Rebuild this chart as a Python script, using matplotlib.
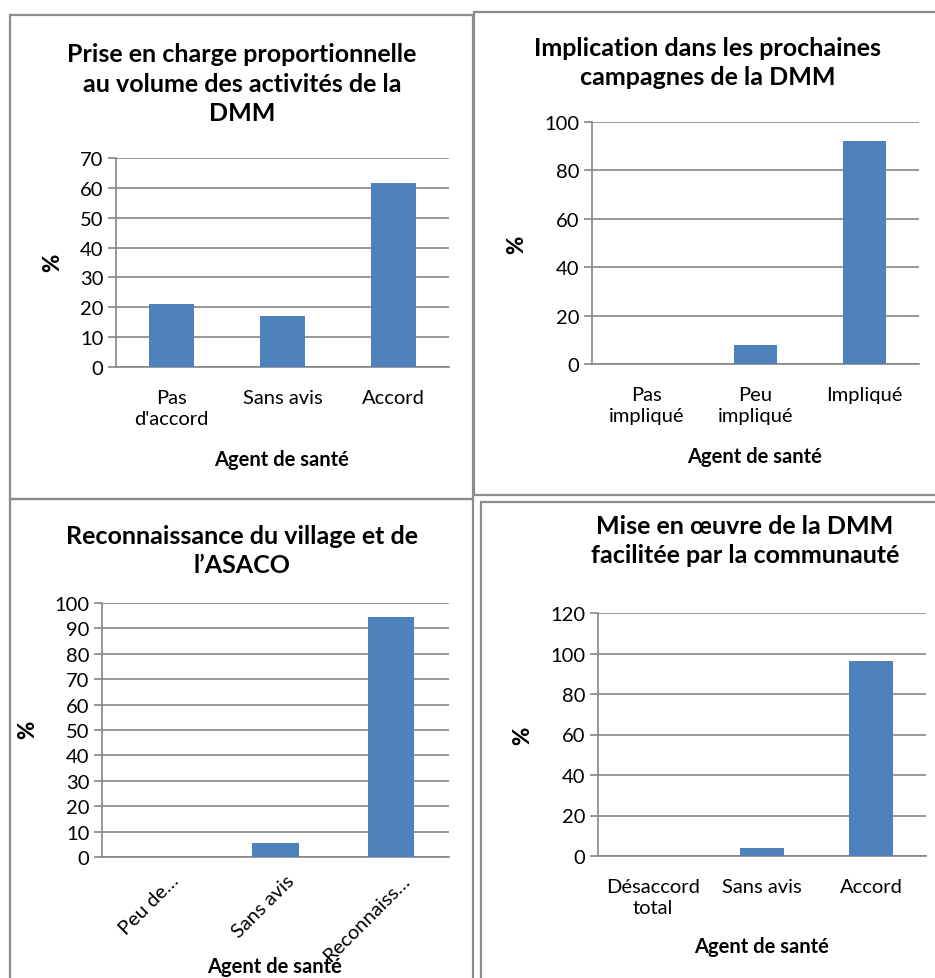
import matplotlib
matplotlib.use('Agg')
import matplotlib.pyplot as plt
from matplotlib.patches import Rectangle
from matplotlib.transforms import ScaledTranslation

# chart values
titles = [
    'Prise en charge proportionnelle\nau volume des activités de la\nDMM',
    'Implication dans les prochaines\ncampagnes de la DMM',
    'Reconnaissance du village et de\nl\u2019ASACO',
    'Mise en \u0153uvre de la DMM\nfacilitée par la communauté',
]
cats_1 = ['Pas\nd\'accord', 'Sans avis', 'Accord']
vals_1 = [21, 17.2, 61.5]
cats_2 = ['Pas\nimpliqué', 'Peu\nimpliqué', 'Impliqué']
vals_2 = [0, 7.7, 92.3]
cats_3 = ['Peu de\u2026', 'Sans avis', 'Reconnaiss\u2026']
vals_3 = [0, 5.7, 94.3]
cats_4 = ['Désaccord\ntotal', 'Sans avis', 'Accord']
vals_4 = [0, 3.9, 96.1]
yticks_1 = [0, 10, 20, 30, 40, 50, 60, 70]
yticks_2 = [0, 20, 40, 60, 80, 100]
yticks_3 = [0, 10, 20, 30, 40, 50, 60, 70, 80, 90, 100]
yticks_4 = [0, 20, 40, 60, 80, 100, 120]
xlabel = 'Agent de santé'
ylabel = '%'

BAR = '#4F81BD'
GRID = '#868686'
W, H = 935, 979
FS = 14.5

plt.rcParams['font.family'] = ['Lato', 'DejaVu Sans']
fig = plt.figure(figsize=(W / 100, H / 100), dpi=100)


def px(x, y):
    return x / W, 1 - y / H


def box(x0, y0, x1, y1):
    fx, fy = px(x0, y1)
    fig.patches.append(Rectangle((fx, fy), (x1 - x0) / W, (y1 - y0) / H,
                                 transform=fig.transFigure, fill=False,
                                 edgecolor='#8c8c8c', linewidth=1.6))


# panel frames
box(10, 16, 473, 500)
box(474, 13, 940, 496)
box(10, 500, 473, 990)
box(481, 503, 940, 990)


def panel(rect, cats, vals, yt, title, tpos, xl, yl, rot=False):
    x0, y0, x1, y1 = rect
    l, b = px(x0, y1)
    ax = fig.add_axes([l, b, (x1 - x0) / W, (y1 - y0) / H])
    ax.bar(range(len(cats)), vals, width=0.4, color=BAR, zorder=3)
    ax.set_xlim(-0.5, len(cats) - 0.5)
    ax.set_ylim(yt[0], yt[-1])
    ax.set_yticks(yt)
    ax.set_xticks(range(len(cats)))
    ax.grid(axis='y', color=GRID, linewidth=1.2, zorder=0)
    for s in ['top', 'right']:
        ax.spines[s].set_visible(False)
    for s in ['left', 'bottom']:
        ax.spines[s].set_color(GRID)
        ax.spines[s].set_linewidth(1.2)
    ax.tick_params(axis='y', length=6, width=1.2, color=GRID, pad=3,
                   labelsize=FS)
    ax.tick_params(axis='x', length=0, pad=16, labelsize=FS)
    if rot:
        ax.set_xticklabels(cats, rotation=45, ha='right', va='top',
                           rotation_mode='anchor')
        for lab in ax.get_xticklabels():
            lab.set_transform(lab.get_transform() +
                              ScaledTranslation(0.10, 0.08, fig.dpi_scale_trans))
    else:
        ax.set_xticklabels(cats, linespacing=1.3)
    fig.text(*px(*tpos), title, ha='center', va='center', fontsize=18,
             fontweight='bold', linespacing=1.35)
    ax.set_xlabel(xlabel, fontsize=FS, fontweight='bold', va='center')
    ax.xaxis.set_label_coords(*px(*xl), transform=fig.transFigure)
    ax.set_ylabel(ylabel, fontsize=16, fontweight='black', va='center')
    ax.yaxis.set_label_coords(*px(*yl), transform=fig.transFigure)
    return ax


panel((116, 159, 449, 368), cats_1, vals_1, yticks_1, titles[0], (242, 84),
      (282, 460), (53, 263))
panel((592, 123, 919, 365), cats_2, vals_2, yticks_2, titles[1], (708, 63),
      (755, 457), (517, 245))
panel((102, 604, 449, 858), cats_3, vals_3, yticks_3, titles[2], (242, 551),
      (275, 967), (28, 730), rot=True)
panel((598, 614, 926, 857), cats_4, vals_4, yticks_4, titles[3], (745, 541),
      (762, 947), (523, 736))

fig.savefig('out.png', dpi=100)
